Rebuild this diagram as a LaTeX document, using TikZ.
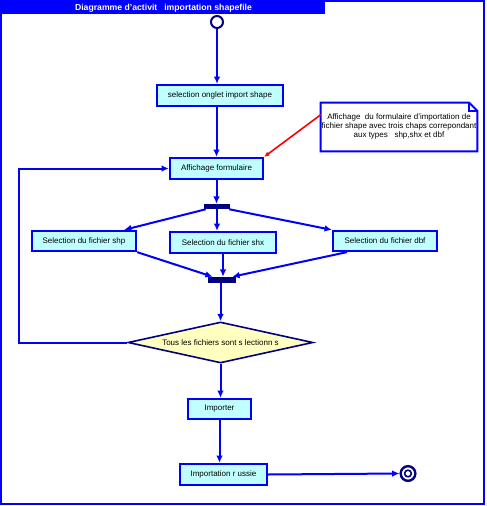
\documentclass[tikz,border=0pt]{standalone}
\usepackage{fontspec}
\setmainfont{Liberation Sans}
\usetikzlibrary{arrows.meta,shapes.geometric,calc}
\definecolor{umlblue}{RGB}{0,0,255}
\definecolor{umlnavy}{RGB}{0,0,128}
\definecolor{actfill}{RGB}{192,255,255}
\definecolor{decfill}{RGB}{255,255,192}
\begin{document}
\begin{tikzpicture}[x=0.75pt,y=-0.75pt,
  every node/.style={font=\fontsize{6}{7}\selectfont},
  act/.style={draw=umlblue, fill=actfill, line width=1.7pt, inner sep=0pt, rectangle},
  bar/.style={fill=umlnavy, draw=none, inner sep=0pt, rectangle},
  flow/.style={draw=umlblue, line width=1.5pt, -{Latex[length=5.5pt,width=5pt]}},
  notelink/.style={draw=red, line width=1.2pt, -{Latex[length=4pt,width=3.5pt]}},
]
\useasboundingbox (0,0) rectangle (486,506);
% frame and title
\draw[umlblue, line width=1.5pt] (1,1) rectangle (484,504);
\node[fill=umlblue, inner sep=0pt, minimum width=242.25pt, minimum height=9pt,
      text=white, font=\fontsize{6.5}{7}\selectfont\bfseries] (title) at (163.5,8)
      {Diagramme d'activit\hspace{0.8em}importation shapefile};

% states
\node[circle, draw=umlnavy, fill=white, line width=1.5pt, minimum size=9pt, inner sep=0pt] (init) at (217,22) {};
\node[act, minimum width=94.5pt, minimum height=15.75pt] (a1) at (220,95.5) {selection onglet import shape};
\node[act, minimum width=69.75pt, minimum height=15.75pt] (aff) at (216.5,168.5) {Affichage formulaire};
\node[bar, minimum width=19.5pt, minimum height=3.75pt] (fork) at (217,206.5) {};
\node[act, minimum width=78pt, minimum height=15pt] (shp) at (84,241) {Selection du fichier shp};
\node[act, minimum width=79.5pt, minimum height=15.75pt] (shx) at (223,242.5) {Selection du fichier shx};
\node[act, minimum width=78pt, minimum height=15pt] (dbf) at (385,241) {Selection du fichier dbf};
\node[bar, minimum width=21pt, minimum height=4.5pt] (join) at (222,280) {};
\node[diamond, aspect=4.5, draw=umlnavy, fill=decfill, line width=1.2pt, inner sep=0pt,
      minimum width=138.75pt, minimum height=30.75pt] (dec) at (220.5,342.5) {Tous les fichiers sont s\ lectionn\ s};
\node[act, minimum width=47.25pt, minimum height=15pt] (imp) at (219.5,409) {Importer};
\node[act, minimum width=65.25pt, minimum height=15.75pt] (res) at (223.5,474.5) {Importation r ussie};
\node[circle, draw=umlnavy, fill=white, line width=1.8pt, minimum size=11pt, inner sep=0pt] (final) at (408,473.5) {};
\node[circle, draw=umlnavy, fill=white, line width=1.2pt, minimum size=5pt, inner sep=0pt] (finalin) at (408,473.5) {};

% note
\node[inner sep=0pt, minimum width=117pt, minimum height=36pt] (note) at (399,127) {};
\draw[umlblue, line width=1.5pt, fill=white]
  (note.north west) -- ($(note.north east)+(-8,0)$) -- ($(note.north east)+(0,8)$)
  -- (note.south east) -- (note.south west) -- cycle;
\draw[umlblue, line width=1.2pt]
  ($(note.north east)+(-8,0)$) -- ($(note.north east)+(-8,8)$) -- ($(note.north east)+(0,8)$);
\node[align=center, font=\fontsize{6}{6.9}\selectfont, anchor=north] (notetext) at (399,109)
  {Affichage\ \ du formulaire d'importation de\\fichier shape avec trois chaps correpondant\\aux types\ \ \ shp,shx et dbf};

% connectors
\draw[flow] (init) -- (init |- a1.north);
\draw[flow] (aff.north |- a1.south) -- (aff.north);
\draw[flow] (aff.south) -- (aff.south |- fork.north);
\draw[flow] ($(fork.south west)+(2,0)$) -- ($(shp.north east)+(-13,0)$);
\draw[flow] (fork.south) -- (fork.south |- shx.north);
\draw[flow] ($(fork.south east)+(-1,0)$) -- (dbf.north west);
\draw[flow] (shp.south east) -- ($(join.north west)+(5,0)$);
\draw[flow] (shx.south) -- (shx.south |- join.north);
\draw[flow] ($(dbf.south west)+(15,0)$) -- ($(join.north east)+(-4,0)$);
\draw[flow] (dec.north |- join.south) -- (dec.north);
\draw[flow] (dec.south) -- (dec.south |- imp.north);
\draw[flow] (imp.south) -- (imp.south |- res.north);
\draw[flow] (res.east) -- (final.west);
\coordinate (loop) at (19,342.5);
\draw[flow] (dec.west) -- (loop) |- (aff.west);
\draw[notelink] ($(note.north west)+(0,12)$) -- (aff.north east);
\end{tikzpicture}
\end{document}
